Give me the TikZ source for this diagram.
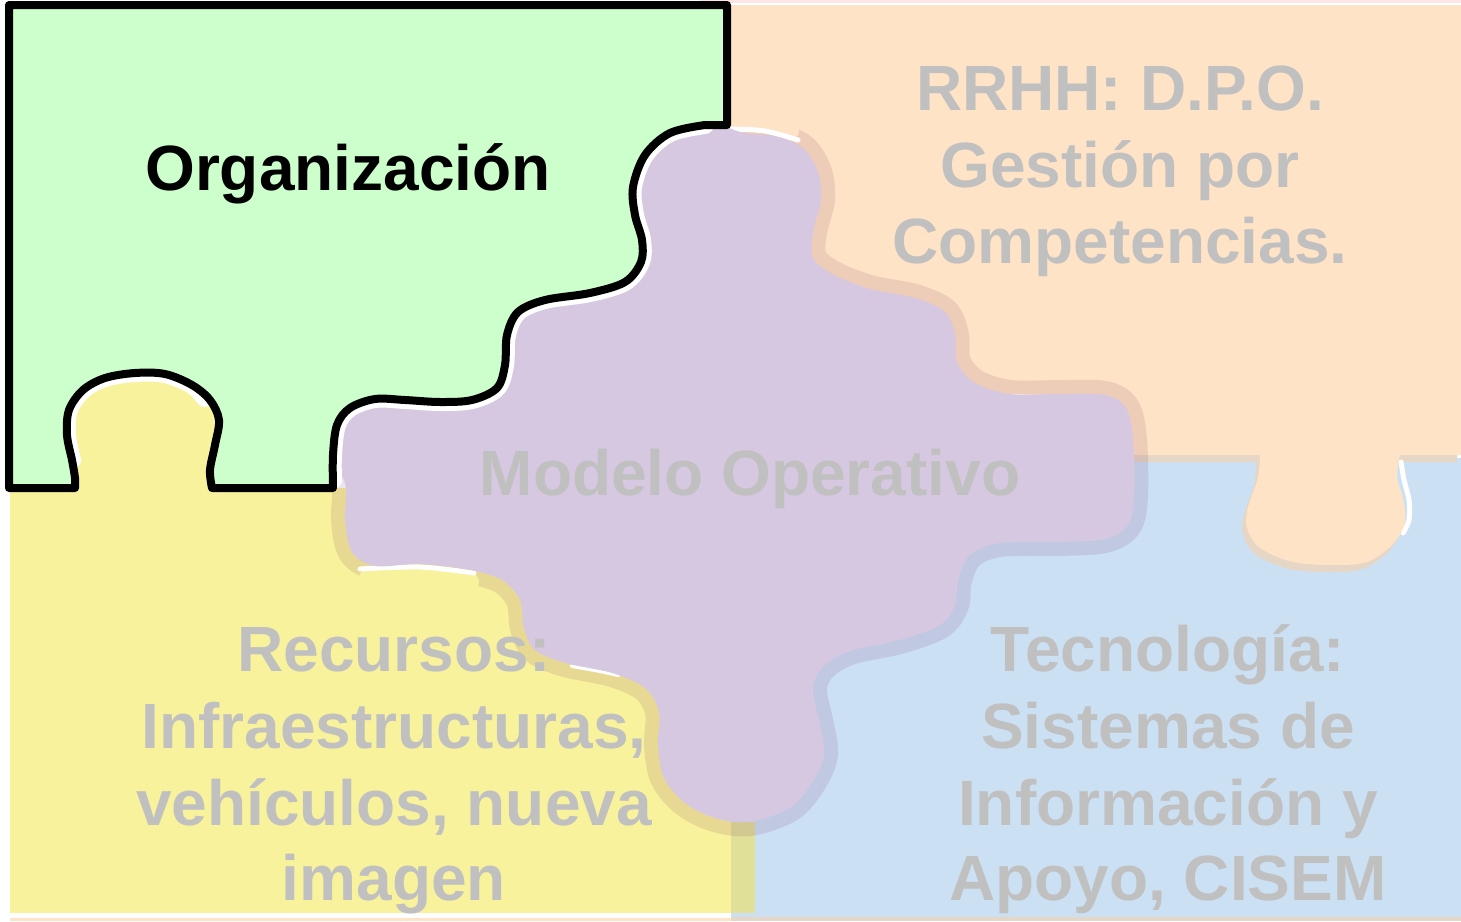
\documentclass[tikz,border=0pt]{standalone}
\usepackage{fontspec}
\setmainfont{Liberation Sans}
\definecolor{grn}{HTML}{CCFFCC}
\definecolor{orn}{HTML}{FFE3C6}
\definecolor{yel}{HTML}{F8F29C}
\definecolor{blu}{HTML}{CCE0F4}
\definecolor{pur}{HTML}{D7C8E2}
\definecolor{txtgrey}{HTML}{C0C0C0}
\definecolor{orshadow}{HTML}{E6D6C6}
\definecolor{overlap}{HTML}{E0E098}
\definecolor{bandc}{RGB}{110,40,90}
\definecolor{toppink}{HTML}{FFE6E6}
\begin{document}
\begin{tikzpicture}[x=0.5pt,y=-0.5pt,
  lbl/.style={font=\fontsize{32}{38}\selectfont\bfseries, text=txtgrey, inner sep=0pt, anchor=base},
  halo/.style={draw=white, line width=9pt, line cap=round, line join=round},
  hilite/.style={draw=white, line width=2.5pt, line cap=round}]
\useasboundingbox (0,0) rectangle (1461,921);
\fill[white] (0,0) rectangle (1461,921);
% thin strips
\fill[toppink] (700,0) rectangle (1461,2.5);
\fill[blu] (731,458) rectangle (1461,917);
\fill[orn] (10,918) rectangle (731,921);
\fill[orshadow] (731,917) rectangle (1461,921);
% orange piece shadow
\fill[orshadow, shift={(-4,7)}] (728,5) -- (1461,5) -- (1461,455) -- (1400,455)
  -- plot[smooth, tension=0.55] coordinates {(1400,455) (1397,477) (1403,498) (1405,522) (1393,544) (1367,562) (1333,565) (1293,562) (1260,548) (1247,528) (1248,507) (1258,478) (1260,455)}
  -- (728,455) -- cycle;
% highlight right of tab
\draw[hilite] plot[smooth] coordinates {(1401,462) (1404,480) (1409,500) (1409,520) (1403,533)};
% orange piece
\fill[orn] (728,5) -- (1461,5) -- (1461,455) -- (1400,455)
  -- plot[smooth, tension=0.55] coordinates {(1400,455) (1397,477) (1403,498) (1405,522) (1393,544) (1367,562) (1333,565) (1293,562) (1260,548) (1247,528) (1248,507) (1258,478) (1260,455)}
  -- (728,455) -- cycle;
% yellow piece
\fill[yel] (10,488) rectangle (731,913);
\fill[yel] (55,360) rectangle (235,490);
\fill[overlap] (731,822) rectangle (755,913);
% purple shadow band
\draw[line width=14pt, draw=bandc, draw opacity=0.12, line join=round]
  plot[smooth cycle, tension=0.55] coordinates {(680,112) (740,132) (775,136) (803,148) (818,172) (821,200) (813,232) (813,258) (834,275) (870,289) (915,298) (945,312) (955,335) (957,362) (975,383) (1010,394) (1060,394) (1105,395) (1126,408) (1133,440) (1134,495) (1128,525) (1105,539) (1060,542) (1000,543) (970,555) (958,580) (955,605) (940,625) (900,640) (850,651) (822,668) (813,690) (820,725) (824,755) (812,783) (790,808) (750,822) (715,818) (685,803) (664,778) (658,745) (659,712) (645,688) (612,673) (565,663) (535,650) (524,628) (520,600) (502,580) (470,570) (420,564) (375,566) (352,552) (345,520) (344,480) (312,440) (318,385) (420,378) (478,362) (492,325) (520,280) (600,262) (602,200) (610,150)};
% remove band where the reference shows a light edge
\draw[orn, line width=9pt, line cap=round] plot[smooth] coordinates {(726,120) (760,123) (790,131)};
\draw[yel, line width=9pt, line cap=round] plot[smooth] coordinates {(368,578) (420,576) (470,582)};
% white highlights
\draw[hilite] plot[smooth] coordinates {(730,129) (765,131) (798,140)};
\draw[hilite] plot[smooth] coordinates {(360,569) (420,567) (474,573)};
\draw[hilite, line width=2pt] plot[smooth] coordinates {(572,666) (600,671) (618,675)};
\draw[hilite, line width=2pt] plot[smooth] coordinates {(1005,396) (1050,397) (1092,396)};
% purple piece
\fill[pur]
  plot[smooth cycle, tension=0.55] coordinates {(680,112) (740,132) (775,136) (803,148) (818,172) (821,200) (813,232) (813,258) (834,275) (870,289) (915,298) (945,312) (955,335) (957,362) (975,383) (1010,394) (1060,394) (1105,395) (1126,408) (1133,440) (1134,495) (1128,525) (1105,539) (1060,542) (1000,543) (970,555) (958,580) (955,605) (940,625) (900,640) (850,651) (822,668) (813,690) (820,725) (824,755) (812,783) (790,808) (750,822) (715,818) (685,803) (664,778) (658,745) (659,712) (645,688) (612,673) (565,663) (535,650) (524,628) (520,600) (502,580) (470,570) (420,564) (375,566) (352,552) (345,520) (344,480) (312,440) (318,385) (420,378) (478,362) (492,325) (520,280) (600,262) (602,200) (610,150)};
% green piece: white halo on curved edges
\draw[halo] plot[smooth, tension=0.55] coordinates {(705,125) (670,133) (645,155) (633,187) (635,215) (642,240) (641,262) (625,282) (590,293) (545,300) (518,312) (507,335) (505,365) (497,388) (472,400) (440,402) (405,400) (375,399) (350,408) (337,425) (333,455) (333,480)};
\draw[halo] plot[smooth, tension=0.55] coordinates {(205,398) (192,385) (165,374) (135,373) (105,378) (83,390) (69,410) (67,435) (72,460)};
\draw[line width=4pt, line join=round, fill=grn]
  (9,5) -- (727,5) -- (727,125)
  -- plot[smooth, tension=0.55] coordinates {(705,125) (670,133) (645,155) (633,187) (635,215) (642,240) (641,262) (625,282) (590,293) (545,300) (518,312) (507,335) (505,365) (497,388) (472,400) (440,402) (405,400) (375,399) (350,408) (337,425) (333,455) (333,488)}
  -- (212,488)
  -- plot[smooth, tension=0.55] coordinates {(212,488) (210,470) (215,445) (219,420) (210,400) (192,385) (165,374) (135,373) (105,378) (83,390) (69,410) (67,435) (72,460) (75,478) (75,488)}
  -- (9,488) -- cycle;
% texts
\node[lbl, text=black] (org) at (348,190) {Organización};
\node[lbl] (rr1) at (1120,110) {RRHH: D.P.O.};
\node[lbl] (rr2) at (1120,187) {Gestión por};
\node[lbl] (rr3) at (1120,263) {Competencias.};
\node[lbl] (mod) at (750,495) {Modelo Operativo};
\node[lbl] (re1) at (394,671) {Recursos:};
\node[lbl] (re2) at (394,748) {Infraestructuras,};
\node[lbl] (re3) at (394,825) {vehículos, nueva};
\node[lbl] (re4) at (394,900) {imagen};
\node[lbl] (te1) at (1168,671) {Tecnología:};
\node[lbl] (te2) at (1168,748) {Sistemas de};
\node[lbl] (te3) at (1168,825) {Información y};
\node[lbl] (te4) at (1168,900) {Apoyo, CISEM};
\end{tikzpicture}
\end{document}
